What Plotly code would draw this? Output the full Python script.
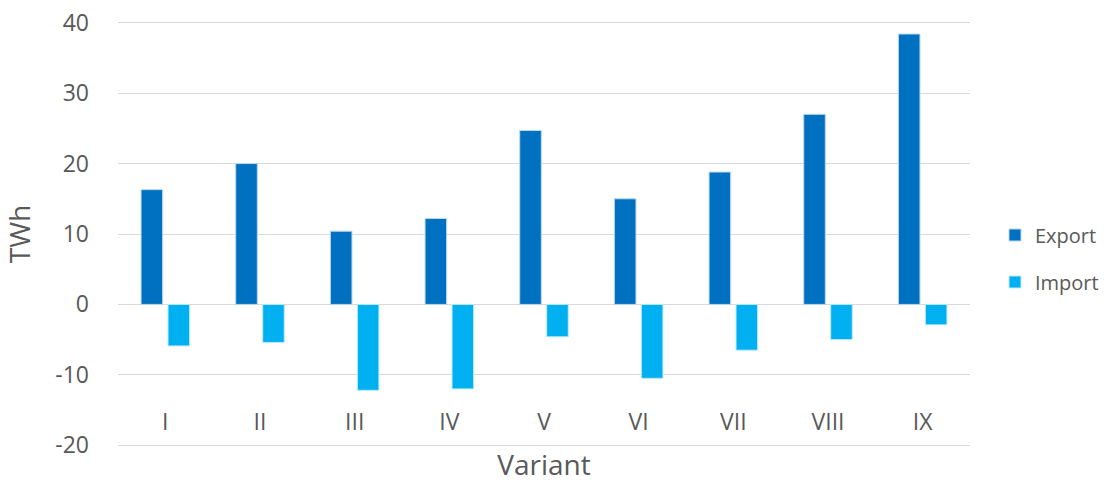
import plotly.graph_objects as go

# data
variants = ['I', 'II', 'III', 'IV', 'V', 'VI', 'VII', 'VIII', 'IX']
export_twh = [16.3, 20.0, 10.4, 12.2, 24.7, 15.0, 18.8, 27.0, 38.4]
import_twh = [-5.9, -5.4, -12.2, -12.0, -4.6, -10.5, -6.5, -5.0, -2.9]
y_ticks = [-20, -10, 0, 10, 20, 30, 40]
y_tick_text = ['-20', '-10', '0', '10', '20', '30', '40']

grey = '#595959'
grid = '#D9D9D9'

fig = go.Figure()
fig.add_trace(go.Bar(x=variants, y=export_twh, name='Export', legendgroup='e',
                     marker=dict(color='#0070C0', line=dict(color='#BDD7EE', width=1))))
fig.add_trace(go.Bar(x=variants, y=import_twh, name='Import', legendgroup='i',
                     marker=dict(color='#00B0F0', line=dict(color='#BDEBFB', width=1))))

# right margin is 0 and the x domain is shortened so the legend sits inside the paper
fig.update_layout(
    width=1104, height=483,
    margin=dict(l=118, r=0, t=21, b=36),
    paper_bgcolor='white', plot_bgcolor='white',
    font=dict(family='Open Sans', size=22, color=grey),
    barmode='group', bargap=0.43, bargroupgap=0.2,
    legend=dict(x=1, y=0.4425, xanchor='right', yanchor='middle',
                tracegroupgap=18, font=dict(size=20, color=grey)),
    xaxis=dict(domain=[0, 0.8641], anchor='free', position=0.096,
               showline=False, showgrid=False,
               automargin=False, ticks='', tickfont=dict(size=23, color=grey),
               title=dict(text='Variant', font=dict(size=28, color=grey), standoff=22)),
    yaxis=dict(range=[-20.25, 40.25], tickvals=y_ticks, ticktext=y_tick_text,
               showgrid=True, gridcolor=grid, automargin=False,
               gridwidth=1, zeroline=True, zerolinecolor=grid, zerolinewidth=1,
               showline=False, ticks='', ticklabelstandoff=28,
               ticklabeloverflow='allow',
               tickfont=dict(size=23, color=grey),
               title=dict(text='TWh', font=dict(size=28, color=grey), standoff=21)),
)

# drop the default body margin so the figure fills the window exactly
fig.write_html("out.html", config={'displayModeBar': False},
               post_script="document.body.style.margin='0';")
